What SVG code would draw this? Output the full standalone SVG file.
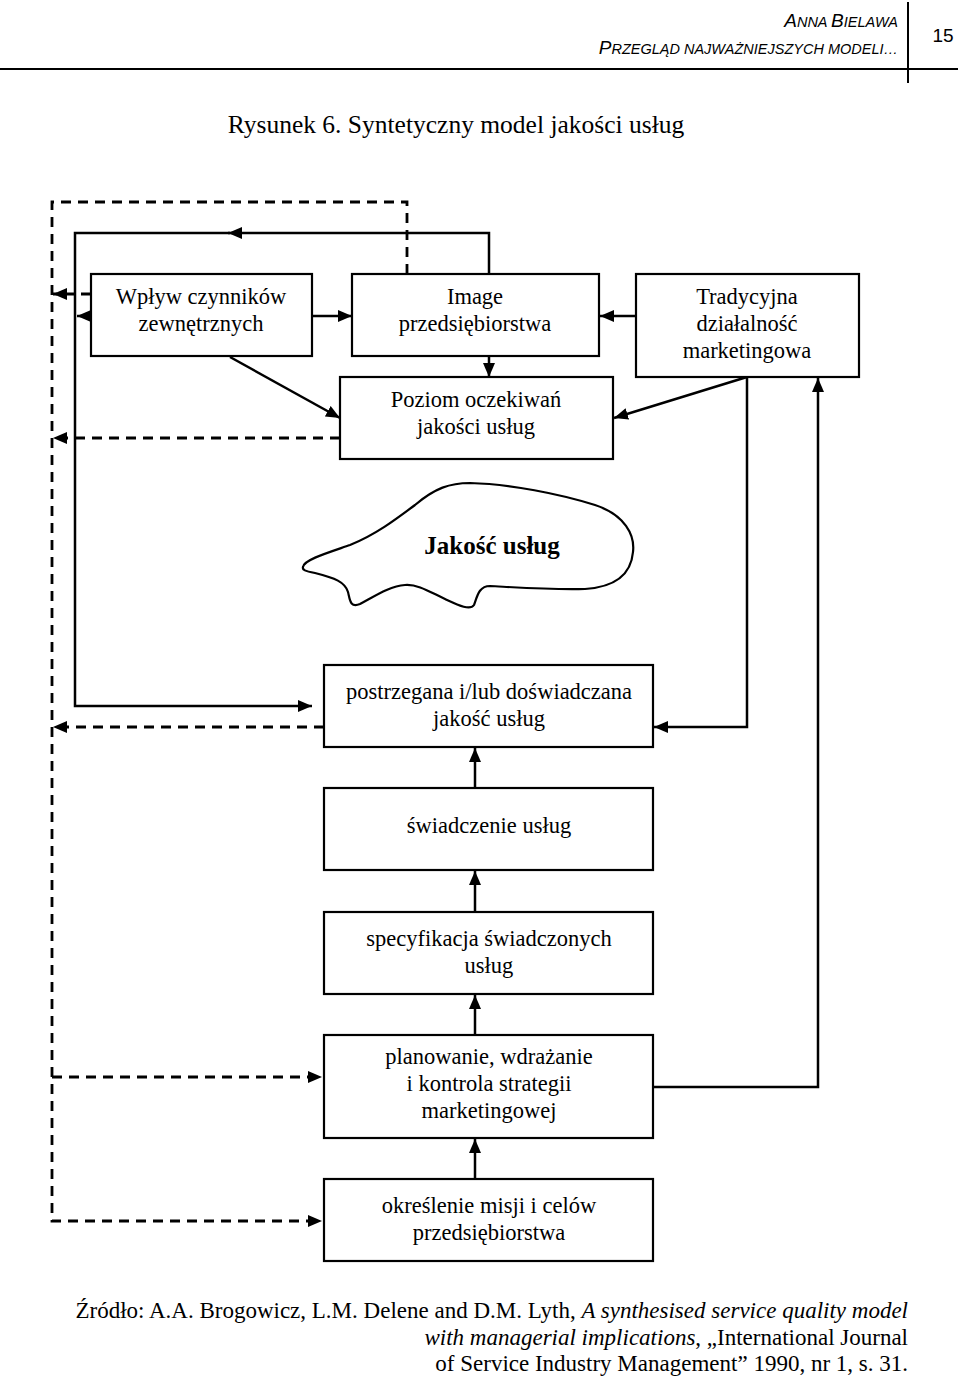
<svg xmlns="http://www.w3.org/2000/svg" width="960" height="1381" viewBox="0 0 960 1381">
<style>
.box{fill:#fff;stroke:#000;stroke-width:2.2}
.t{font-family:"Liberation Serif","Times New Roman",serif;font-size:22.5px;fill:#000;text-anchor:middle}
.c{fill:none;stroke:#000;stroke-width:2.5}
.d{fill:none;stroke:#000;stroke-width:2.8;stroke-dasharray:10 7}
.h{font-family:"Liberation Sans",Arial,sans-serif;font-style:italic;fill:#000}
.src{font-family:"Liberation Serif","Times New Roman",serif;font-size:23px;fill:#000;text-anchor:end}
</style>
<defs>
<marker id="ah" markerUnits="userSpaceOnUse" markerWidth="14" markerHeight="12" viewBox="0 0 14 12" refX="14" refY="6" orient="auto">
<path d="M0,0 L14,6 L0,12 Z" fill="#000"/>
</marker>
</defs>
<rect width="960" height="1381" fill="#fff"/>
<g id="header">
<line x1="0" y1="69" x2="958" y2="69" stroke="#000" stroke-width="2"/>
<line x1="908" y1="2" x2="908" y2="83" stroke="#000" stroke-width="2"/>
<text class="h" x="898" y="27" text-anchor="end"><tspan font-size="19">A</tspan><tspan font-size="14.5">NNA </tspan><tspan font-size="19">B</tspan><tspan font-size="14.5">IELAWA</tspan></text>
<text class="h" x="898" y="54" text-anchor="end"><tspan font-size="19">P</tspan><tspan font-size="14.5">RZEGLĄD NAJWAŻNIEJSZYCH MODELI…</tspan></text>
<text x="943" y="42" font-family="'Liberation Sans',Arial,sans-serif" font-size="19" text-anchor="middle">15</text>
</g>
<text x="456" y="133" font-family="'Liberation Serif','Times New Roman',serif" font-size="25.5" text-anchor="middle">Rysunek 6. Syntetyczny model jakości usług</text>
<g id="connectors">
<path class="d" d="M407,274 V202 H52 V1221 H322" marker-end="url(#ah)"/>
<path class="d" d="M52,1077 H322" marker-end="url(#ah)"/>
<path class="d" d="M91,294 H53" marker-end="url(#ah)"/>
<path class="d" d="M340,438 H53" marker-end="url(#ah)"/>
<path class="d" d="M324,727 H53" marker-end="url(#ah)"/>
<path class="c" d="M489,274 V233 H228" marker-end="url(#ah)"/>
<path class="c" d="M230,233 H75 V706 H312" marker-end="url(#ah)"/>
<path class="c" d="M91,316 H77" marker-end="url(#ah)"/>
<path class="c" d="M311,316 H352" marker-end="url(#ah)"/>
<path class="c" d="M636,316 H600" marker-end="url(#ah)"/>
<path class="c" d="M489,356 V377" marker-end="url(#ah)"/>
<path class="c" d="M230,357 L340,418" marker-end="url(#ah)"/>
<path class="c" d="M747,377 L614,418" marker-end="url(#ah)"/>
<path class="c" d="M747,377 V727 H654" marker-end="url(#ah)"/>
<path class="c" d="M653,1087 H818 V378" marker-end="url(#ah)"/>
<path class="c" d="M475,788 V748" marker-end="url(#ah)"/>
<path class="c" d="M475,912 V871" marker-end="url(#ah)"/>
<path class="c" d="M475,1035 V995" marker-end="url(#ah)"/>
<path class="c" d="M475,1179 V1139" marker-end="url(#ah)"/>
</g>
<g id="n-wplyw">
<rect class="box" x="91" y="274" width="221" height="82"/>
<text class="t" x="201" y="304">Wpływ czynników</text>
<text class="t" x="201" y="331">zewnętrznych</text>
</g>
<g id="n-image">
<rect class="box" x="352" y="274" width="247" height="82"/>
<text class="t" x="475" y="304">Image</text>
<text class="t" x="475" y="331">przedsiębiorstwa</text>
</g>
<g id="n-tradycyjna">
<rect class="box" x="636" y="274" width="223" height="103"/>
<text class="t" x="747" y="304">Tradycyjna</text>
<text class="t" x="747" y="331">działalność</text>
<text class="t" x="747" y="358">marketingowa</text>
</g>
<g id="n-poziom">
<rect class="box" x="340" y="377" width="273" height="82"/>
<text class="t" x="476" y="407">Poziom oczekiwań</text>
<text class="t" x="476" y="434">jakości usług</text>
</g>
<g id="n-jakosc">
<path fill="#fff" stroke="#000" stroke-width="2.2" d="M303,567 C303,560 330,552 350,545 C375,535 395,520 415,505 C435,488 450,483 470,483 C510,484 560,494 595,505 C625,515 635,535 633,552 C631,575 615,587 585,589 C550,590 510,587 490,586 C478,586 477,598 474,605 C470,611 458,605 445,599 C430,592 418,584 405,585 C390,586 375,596 360,604 C350,608 350,600 348,592 C345,582 335,578 315,573 C305,571 302,570 303,567 Z"/>
<text x="492" y="554" font-family="'Liberation Serif','Times New Roman',serif" font-size="25" font-weight="bold" text-anchor="middle">Jakość usług</text>
</g>
<g id="n-postrzegana">
<rect class="box" x="324" y="665" width="329" height="82"/>
<text class="t" x="489" y="699">postrzegana i/lub doświadczana</text>
<text class="t" x="489" y="726">jakość usług</text>
</g>
<g id="n-swiadczenie">
<rect class="box" x="324" y="788" width="329" height="82"/>
<text class="t" x="489" y="833">świadczenie usług</text>
</g>
<g id="n-specyfikacja">
<rect class="box" x="324" y="912" width="329" height="82"/>
<text class="t" x="489" y="946">specyfikacja świadczonych</text>
<text class="t" x="489" y="973">usług</text>
</g>
<g id="n-planowanie">
<rect class="box" x="324" y="1035" width="329" height="103"/>
<text class="t" x="489" y="1064">planowanie, wdrażanie</text>
<text class="t" x="489" y="1091">i kontrola strategii</text>
<text class="t" x="489" y="1118">marketingowej</text>
</g>
<g id="n-okreslenie">
<rect class="box" x="324" y="1179" width="329" height="82"/>
<text class="t" x="489" y="1213">określenie misji i celów</text>
<text class="t" x="489" y="1240">przedsiębiorstwa</text>
</g>
<g id="source">
<text class="src" x="908" y="1318">Źródło: A.A. Brogowicz, L.M. Delene and D.M. Lyth, <tspan font-style="italic">A synthesised service quality model</tspan></text>
<text class="src" x="908" y="1345"><tspan font-style="italic">with managerial implications</tspan>, „International Journal</text>
<text class="src" x="908" y="1371">of Service Industry Management” 1990, nr 1, s. 31.</text>
</g>
</svg>
